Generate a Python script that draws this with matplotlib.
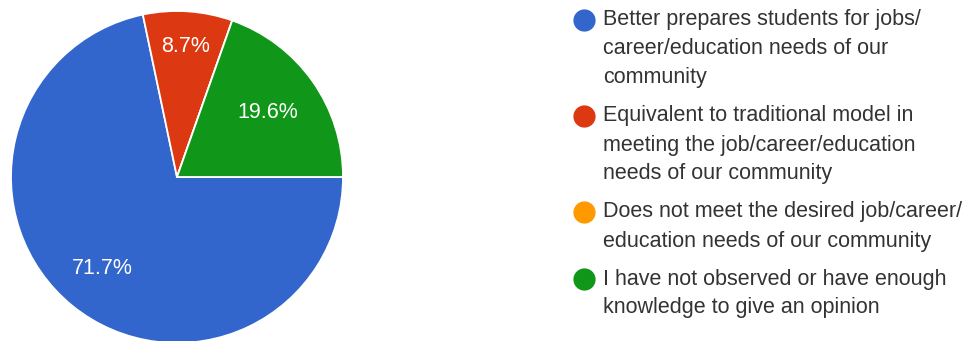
import numpy as np
import matplotlib
matplotlib.use("Agg")
import matplotlib.pyplot as plt

# Survey responses (percent of respondents)
categories = [
    "Better prepares students for jobs/\ncareer/education needs of our\ncommunity",
    "Equivalent to traditional model in\nmeeting the job/career/education\nneeds of our community",
    "Does not meet the desired job/career/\neducation needs of our community",
    "I have not observed or have enough\nknowledge to give an opinion",
]
shares = [71.7, 8.7, 0.0, 19.6]
colors = ["#3366cc", "#dc3912", "#ff9900", "#109618"]

W, H, DPI = 968, 341, 100
plt.rcParams["font.family"] = ["Liberation Sans", "DejaVu Sans"]

fig = plt.figure(figsize=(W / DPI, H / DPI), dpi=DPI)
fig.patch.set_facecolor("white")

# Pie axes, laid out in pixel units
cx, cy, r = 177, 177, 166
ax = fig.add_axes([(cx - r) / W, (H - cy - r) / H, 2 * r / W, 2 * r / H])

wedges, _ = ax.pie(
    shares,
    colors=colors,
    startangle=0,
    counterclock=False,
    radius=1.0,
    wedgeprops=dict(edgecolor="white", linewidth=1.3),
)
ax.set_xlim(-1, 1)
ax.set_ylim(-1, 1)
ax.set_aspect("equal")
ax.axis("off")
for w in wedges:
    w.set_clip_on(False)

# Percent labels placed along each wedge's bisector
label_radius = [0.71, 0.79, 0.7, 0.67]
for w, val, rr in zip(wedges, shares, label_radius):
    if val <= 0:
        continue
    mid = np.deg2rad((w.theta1 + w.theta2) / 2)
    ax.text(rr * np.cos(mid), rr * np.sin(mid), f"{val:.1f}%",
            ha="center", va="center", color="white", fontsize=15.5)

# Legend drawn as markers plus wrapped text lines
mx, tx = 584, 603
y = 20
line_h, gap = 29, 9
for label, col in zip(categories, colors):
    lines = label.split("\n")
    fig.lines.append(plt.Line2D([mx / W], [1 - y / H], marker="o",
                                markersize=15, color=col, linestyle="none",
                                transform=fig.transFigure))
    for i, line in enumerate(lines):
        fig.text(tx / W, 1 - (y + i * line_h) / H, line,
                 ha="left", va="center", fontsize=15.5, color="#333333")
    y += len(lines) * line_h + gap

fig.savefig("out.png", dpi=DPI, facecolor="white")
